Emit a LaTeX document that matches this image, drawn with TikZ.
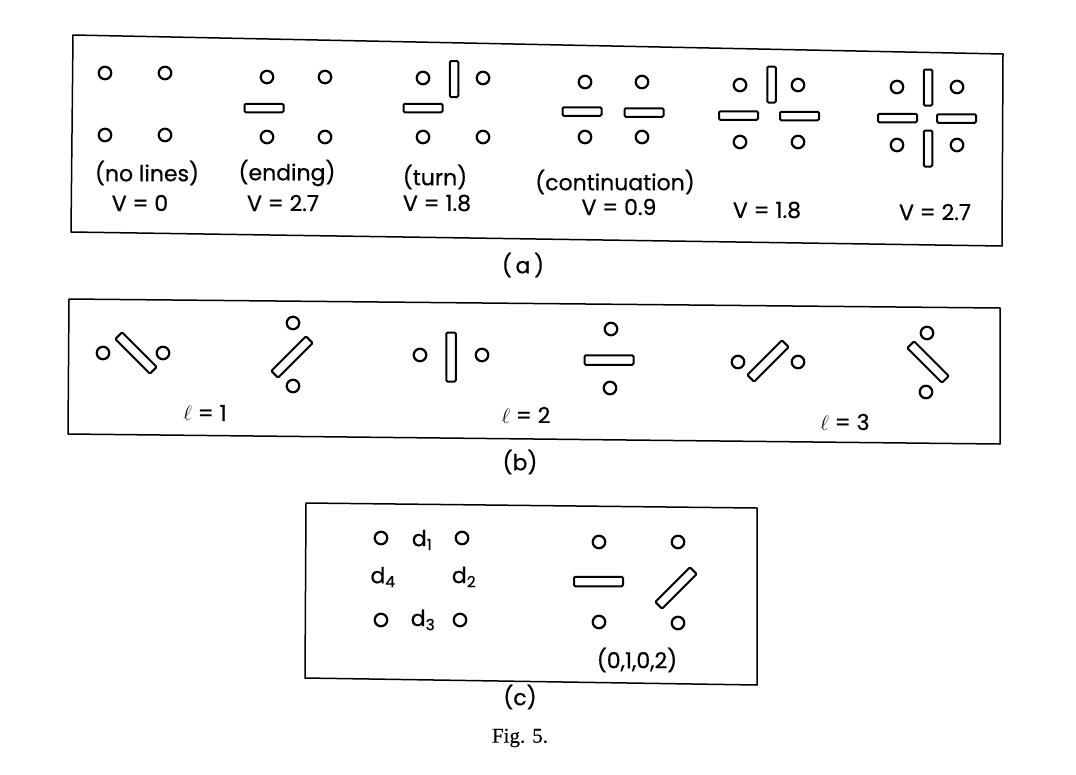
\documentclass[tikz,border=0pt]{standalone}
\usepackage{fontspec}
\setmainfont{Poppins}[FakeBold=0.6]
\newfontfamily\figfont{Liberation Serif}[FakeBold=0.4]
\begin{document}
\begin{tikzpicture}[x=1pt,y=-1pt,
  dot/.style={circle,draw,line width=2.2pt,minimum size=12.5pt,inner sep=0pt},
  hbar/.style={rectangle,draw,line width=2pt,rounded corners=1.2pt,minimum width=39pt,minimum height=8.5pt,inner sep=0pt},
  vbar/.style={hbar,minimum width=8.5pt,minimum height=36pt},
  lbar/.style={hbar,minimum width=49pt,minimum height=9.5pt},
  lvbar/.style={hbar,minimum width=9.5pt,minimum height=49pt},
  lab/.style={font=\fontsize{22}{24}\selectfont,inner sep=0pt},
  panelcap/.style={font=\fontsize{22}{24}\selectfont,inner sep=0pt},
  frame/.style={line width=1.5pt,line join=round}]
\useasboundingbox (0,0) rectangle (1076,774);
% ---------------- panel (a)
\draw[frame] (73,35) -- (1003,54) -- (1002,246) -- (71,232) -- cycle;
% no lines
\node[dot] (a1tl) at (105,73) {};
\node[dot] (a1tr) at (165,73) {};
\node[dot] (a1bl) at (105,135) {};
\node[dot] (a1br) at (165,135) {};
\node[lab] (a1t) at (147,173) {(no lines)};
\node[lab] (a1v) at (140,203) {V = 0};
% ending
\node[dot] (a2tl) at (267,77) {};
\node[dot] (a2tr) at (325,77) {};
\node[dot] (a2bl) at (267,137) {};
\node[dot] (a2br) at (325,137) {};
\node[hbar] (a2h) at (264,108) {};
\node[lab] (a2t) at (287,173) {(ending)};
\node[lab] (a2v) at (283,203) {V = 2.7};
% turn
\node[dot] (a3tl) at (423,78) {};
\node[dot] (a3tr) at (483,78) {};
\node[dot] (a3bl) at (423,137) {};
\node[dot] (a3br) at (483,137) {};
\node[vbar] (a3v) at (454,79) {};
\node[hbar] (a3h) at (423,108) {};
\node[lab] (a3t) at (435,177) {(turn)};
\node[lab] (a3val) at (437,203) {V = 1.8};
% continuation
\node[dot] (a4tl) at (585,82) {};
\node[dot] (a4tr) at (642,82) {};
\node[dot] (a4bl) at (585,137) {};
\node[dot] (a4br) at (642,137) {};
\node[hbar] (a4h1) at (582,111.5) {};
\node[hbar] (a4h2) at (644,112.5) {};
\node[lab] (a4t) at (615,182) {(continuation)};
\node[lab] (a4v) at (619,207) {V = 0.9};
% T junction
\node[dot] (a5tl) at (740,85) {};
\node[dot] (a5tr) at (798,85) {};
\node[dot] (a5bl) at (740,142) {};
\node[dot] (a5br) at (798,142) {};
\node[vbar] (a5v) at (771.5,84.5) {};
\node[hbar] (a5h1) at (738.5,115.5) {};
\node[hbar] (a5h2) at (799.5,116) {};
\node[lab] (a5val) at (767,210) {V = 1.8};
% cross
\node[dot] (a6tl) at (897,87) {};
\node[dot] (a6tr) at (957,87) {};
\node[dot] (a6bl) at (897,145) {};
\node[dot] (a6br) at (957,145) {};
\node[vbar] (a6v1) at (928,87.5) {};
\node[vbar] (a6v2) at (928,148.5) {};
\node[hbar] (a6h1) at (897.5,118) {};
\node[hbar] (a6h2) at (956.5,118.5) {};
\node[lab] (a6val) at (935,212) {V = 2.7};
\node[panelcap] (capa) at (523,265) {(\,a\,)};
% ---------------- panel (b)
\draw[frame] (69,299) -- (1000,308) -- (1000,444) -- (68,434) -- cycle;
\node[dot] (b1l) at (103,353) {};
\node[dot] (b1r) at (163,353) {};
\node[lbar,rotate=-45] (b1bar) at (136,353) {};
\node[dot] (b2t) at (293,323) {};
\node[dot] (b2b) at (293,386) {};
\node[lbar,rotate=45] (b2bar) at (292,357) {};
\node[lab] (b12) at (205,413) {$\ell$ = 1};
\node[dot] (b3l) at (420,355) {};
\node[dot] (b3r) at (482,355) {};
\node[lvbar] (b3bar) at (451,357) {};
\node[dot] (b4t) at (611,329) {};
\node[dot] (b4b) at (610,388) {};
\node[lbar] (b4bar) at (609,360) {};
\node[lab] (b34) at (526,415) {$\ell$ = 2};
\node[dot] (b5l) at (738,362) {};
\node[dot] (b5r) at (798,362) {};
\node[lbar,rotate=45] (b5bar) at (768,361) {};
\node[dot] (b6t) at (927,333) {};
\node[dot] (b6b) at (926,392) {};
\node[lbar,rotate=-45] (b6bar) at (928,362) {};
\node[lab] (b56) at (845,422) {$\ell$ = 3};
\node[panelcap] (capb) at (520,462) {(b)};
% ---------------- panel (c)
\draw[frame] (306,503) -- (757,508) -- (757,685) -- (305,678) -- cycle;
\node[dot] (c1tl) at (381,538) {};
\node[dot] (c1tr) at (462,538) {};
\node[dot] (c1bl) at (381,620) {};
\node[dot] (c1br) at (460,620) {};
\node[lab] (d1) at (422,540) {d\textsubscript{1}};
\node[lab] (d4) at (383,577) {d\textsubscript{4}};
\node[lab] (d2) at (464,577) {d\textsubscript{2}};
\node[lab] (d3) at (423,620) {d\textsubscript{3}};
\node[dot] (c2tl) at (599,542) {};
\node[dot] (c2tr) at (678,542) {};
\node[dot] (c2bl) at (599,622) {};
\node[dot] (c2br) at (678,623) {};
\node[lbar] (c2h) at (598.5,581.5) {};
\node[lbar,rotate=45] (c2d) at (676,588) {};
\node[lab] (c2t) at (637,660) {(0,1,0,2)};
\node[panelcap] (capc) at (520,697) {(c)};
% caption
\node[font=\figfont\fontsize{21}{23}\selectfont,inner sep=0pt] (fig) at (520,738) {Fig. 5.};
\end{tikzpicture}
\end{document}
